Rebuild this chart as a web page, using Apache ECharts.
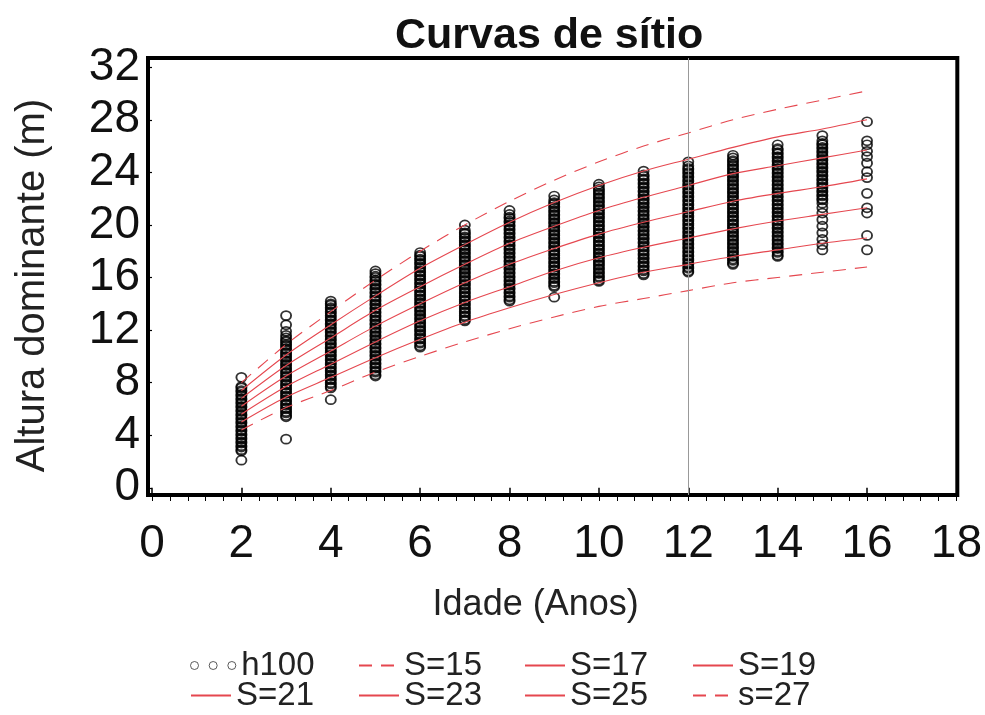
<!DOCTYPE html>
<html><head><meta charset="utf-8">
<script src="https://cdn.jsdelivr.net/npm/echarts@6/dist/echarts.min.js"></script>
<style>html,body{margin:0;padding:0;background:#fff}#c{width:985px;height:715px}</style>
</head><body><div id="c"></div>
<script>
// Idades (anos) das curvas
const idades = [2,3,4,5,6,7,8,9,10,11,12,13,14,15,16];
// Curvas de sítio (altura dominante em m, índice na idade 12)
const S15 = [4.4,6.1,7.4,8.8,10.0,11.1,12.1,13.0,13.8,14.4,15.0,15.6,16.0,16.4,16.8];
const S17 = [5.0,6.9,8.4,9.9,11.3,12.6,13.7,14.7,15.6,16.4,17.0,17.6,18.1,18.6,19.0];
const S19 = [5.6,7.7,9.4,11.1,12.7,14.1,15.3,16.5,17.5,18.3,19.0,19.7,20.3,20.8,21.3];
const S21 = [6.2,8.5,10.4,12.3,14.0,15.6,17.0,18.2,19.3,20.2,21.0,21.8,22.4,22.9,23.5];
const S23 = [6.8,9.3,11.4,13.5,15.3,17.0,18.6,19.9,21.1,22.1,23.0,23.9,24.5,25.1,25.7];
const S25 = [7.4,10.1,12.4,14.6,16.7,18.5,20.2,21.7,23.0,24.1,25.0,25.9,26.7,27.3,28.0];
const S27 = [8.0,10.9,13.4,15.8,18.0,20.0,21.8,23.4,24.8,26.0,27.0,28.0,28.8,29.5,30.2];
// Observações h100 por idade
const h2 = [2.1,2.8,2.9,3.1,3.2,3.4,3.5,3.7,3.8,4.0,4.1,4.3,4.4,4.6,4.7,4.9,5.0,5.2,5.3,5.5,5.6,5.8,5.9,6.1,6.2,6.4,6.5,6.7,6.8,7.0,7.1,7.3,7.4,7.6,7.7,8.4];
const h3 = [3.7,5.4,5.5,5.7,5.8,6.0,6.1,6.3,6.4,6.6,6.7,6.9,7.0,7.2,7.3,7.5,7.6,7.8,7.9,8.1,8.2,8.4,8.5,8.7,8.8,9.0,9.1,9.3,9.4,9.6,9.7,9.9,10.0,10.2,10.3,10.5,10.6,10.8,10.9,11.1,11.2,11.4,11.6,11.9,12.4,13.1];
const h4 = [6.7,7.6,7.7,7.9,8.0,8.2,8.3,8.5,8.6,8.8,8.9,9.1,9.2,9.4,9.5,9.7,9.8,10.0,10.1,10.3,10.4,10.6,10.7,10.9,11.0,11.2,11.3,11.5,11.6,11.8,11.9,12.1,12.2,12.4,12.5,12.7,12.8,13.0,13.1,13.3,13.4,13.6,13.7,13.9,14.0,14.2];
const h5 = [8.5,8.6,8.8,8.9,9.1,9.2,9.4,9.5,9.7,9.8,10.0,10.1,10.3,10.4,10.6,10.7,10.9,11.0,11.2,11.3,11.5,11.6,11.8,11.9,12.1,12.2,12.4,12.5,12.7,12.8,13.0,13.1,13.3,13.4,13.6,13.7,13.9,14.0,14.2,14.3,14.5,14.6,14.8,14.9,15.1,15.2,15.4,15.5,15.7,15.8,16.0,16.1,16.3,16.5];
const h6 = [10.7,10.8,11.0,11.1,11.3,11.4,11.6,11.7,11.9,12.0,12.2,12.3,12.5,12.6,12.8,12.9,13.1,13.2,13.4,13.5,13.7,13.8,14.0,14.1,14.3,14.4,14.6,14.7,14.9,15.0,15.2,15.3,15.5,15.6,15.8,15.9,16.1,16.2,16.4,16.5,16.7,16.8,17.0,17.1,17.3,17.4,17.6,17.7,17.9];
const h7 = [12.7,12.8,13.0,13.1,13.3,13.4,13.6,13.7,13.9,14.0,14.2,14.3,14.5,14.6,14.8,14.9,15.1,15.2,15.4,15.5,15.7,15.8,16.0,16.1,16.3,16.4,16.6,16.7,16.9,17.0,17.2,17.3,17.5,17.6,17.8,17.9,18.1,18.2,18.4,18.5,18.7,18.8,19.0,19.1,19.3,19.4,19.6,20.0];
const h8 = [14.2,14.3,14.5,14.6,14.8,14.9,15.1,15.2,15.4,15.5,15.7,15.8,16.0,16.1,16.3,16.4,16.6,16.7,16.9,17.0,17.2,17.3,17.5,17.6,17.8,17.9,18.1,18.2,18.4,18.5,18.7,18.8,19.0,19.1,19.3,19.4,19.6,19.7,19.9,20.0,20.2,20.3,20.5,20.6,20.8,21.1];
const h9 = [14.5,15.3,15.4,15.6,15.7,15.9,16.0,16.2,16.3,16.5,16.6,16.8,16.9,17.1,17.2,17.4,17.5,17.7,17.8,18.0,18.1,18.3,18.4,18.6,18.7,18.9,19.0,19.2,19.3,19.5,19.6,19.8,19.9,20.1,20.2,20.4,20.5,20.7,20.8,21.0,21.1,21.3,21.4,21.6,21.7,21.9,22.2];
const h10 = [15.7,15.8,16.0,16.1,16.3,16.4,16.6,16.7,16.9,17.0,17.2,17.3,17.5,17.6,17.8,17.9,18.1,18.2,18.4,18.5,18.7,18.8,19.0,19.1,19.3,19.4,19.6,19.7,19.9,20.0,20.2,20.3,20.5,20.6,20.8,20.9,21.1,21.2,21.4,21.5,21.7,21.8,22.0,22.1,22.3,22.4,22.6,22.7,22.9,23.1];
const h11 = [16.2,16.3,16.5,16.6,16.8,16.9,17.1,17.2,17.4,17.5,17.7,17.8,18.0,18.1,18.3,18.4,18.6,18.7,18.9,19.0,19.2,19.3,19.5,19.6,19.8,19.9,20.1,20.2,20.4,20.5,20.7,20.8,21.0,21.1,21.3,21.4,21.6,21.7,21.9,22.0,22.2,22.3,22.5,22.6,22.8,22.9,23.1,23.2,23.4,23.5,23.7,23.8,24.1];
const h12 = [16.4,16.5,16.7,16.8,17.0,17.1,17.3,17.4,17.6,17.7,17.9,18.0,18.2,18.3,18.5,18.6,18.8,18.9,19.1,19.2,19.4,19.5,19.7,19.8,20.0,20.1,20.3,20.4,20.6,20.7,20.9,21.0,21.2,21.3,21.5,21.6,21.8,21.9,22.1,22.2,22.4,22.5,22.7,22.8,23.0,23.1,23.3,23.4,23.6,23.7,23.9,24.0,24.2,24.3,24.5,24.8];
const h13 = [17.0,17.1,17.3,17.4,17.6,17.7,17.9,18.0,18.2,18.3,18.5,18.6,18.8,18.9,19.1,19.2,19.4,19.5,19.7,19.8,20.0,20.1,20.3,20.4,20.6,20.7,20.9,21.0,21.2,21.3,21.5,21.6,21.8,21.9,22.1,22.2,22.4,22.5,22.7,22.8,23.0,23.1,23.3,23.4,23.6,23.7,23.9,24.0,24.2,24.3,24.5,24.6,24.8,24.9,25.1,25.3];
const h14 = [17.6,17.7,17.9,18.0,18.2,18.3,18.5,18.6,18.8,18.9,19.1,19.2,19.4,19.5,19.7,19.8,20.0,20.1,20.3,20.4,20.6,20.7,20.9,21.0,21.2,21.3,21.5,21.6,21.8,21.9,22.1,22.2,22.4,22.5,22.7,22.8,23.0,23.1,23.3,23.4,23.6,23.7,23.9,24.0,24.2,24.3,24.5,24.6,24.8,24.9,25.1,25.2,25.4,25.5,25.7,25.8,26.1];
const h15 = [18.1,18.5,18.9,19.4,19.9,20.4,20.9,21.3,21.65,21.9,22.0,22.2,22.3,22.5,22.6,22.8,22.9,23.1,23.2,23.4,23.5,23.7,23.8,24.0,24.1,24.3,24.4,24.6,24.7,24.9,25.0,25.2,25.3,25.5,25.6,25.8,25.9,26.1,26.2,26.4,26.8];
const h16 = [18.1,19.2,20.9,21.3,22.4,23.6,24.05,24.7,25.2,25.6,26.1,26.4,27.85];
// Rótulos dos eixos
const xTicks = [0,2,4,6,8,10,12,14,16,18];
const yTicks = [0,4,8,12,16,20,24,28,32];
const idadeRef = 12;

const FONT = '"Liberation Sans", Arial, sans-serif';
const obsCols = [[2,h2],[3,h3],[4,h4],[5,h5],[6,h6],[7,h7],[8,h8],[9,h9],[10,h10],[11,h11],[12,h12],[13,h13],[14,h14],[15,h15],[16,h16]];
const obs = [];
obsCols.forEach(([a, arr]) => arr.forEach(v => obs.push([a, v])));
const minorTicks = [];
for (let i = 0; i <= 45; i++) minorTicks.push(+(i * 0.4).toFixed(2));

const RED = '#e5474f';
function curve(name, vals, dashed) {
  return {
    name: name, type: 'line', data: idades.map((a, i) => [a, vals[i]]),
    symbol: 'none', smooth: 0.3,
    lineStyle: {color: RED, width: 1.1, type: dashed ? [13, 9] : 'solid'},
    itemStyle: {color: RED},
    z: 3, silent: true
  };
}

const chart = echarts.init(document.getElementById('c'), null, {renderer: 'canvas'});
const legendPos = [
  ['h100', 185, 644], ['S=15', 353, 644], ['S=17', 519, 644], ['S=19', 687, 644],
  ['S=21', 185, 674], ['S=23', 353, 674], ['S=25', 519, 674], ['s=27', 687, 674]
];
const threeCircles = 'path://M0,3a3,3 0 1,0 6,0a3,3 0 1,0 -6,0M14,3a3,3 0 1,0 6,0a3,3 0 1,0 -6,0M28,3a3,3 0 1,0 6,0a3,3 0 1,0 -6,0';
chart.setOption({
  animation: false,
  backgroundColor: '#fff',
  title: {text: 'Curvas de sítio', left: 390, top: 10,
    textStyle: {fontFamily: FONT, fontSize: 43, fontWeight: 'bold', color: '#111'}},
  legend: legendPos.map(([n, x, y]) => (n === 'h100' ? {
    data: [{name: n, icon: threeCircles}],
    left: x, top: y, itemWidth: 46, itemHeight: 8, itemGap: 6, selectedMode: false,
    itemStyle: {borderWidth: 1, borderColor: '#333'},
    textStyle: {fontFamily: FONT, fontSize: 33, color: '#222'}
  } : {
    data: [n],
    left: x, top: y, itemWidth: 40, itemHeight: 12, itemGap: 5, selectedMode: false,
    itemStyle: {opacity: 0},
    textStyle: {fontFamily: FONT, fontSize: 33, color: '#222'}
  })),
  grid: {left: 148, right: 22, top: 58, bottom: 220, show: true, borderColor: '#000', borderWidth: 4,
    backgroundColor: '#fff', containLabel: false},
  xAxis: [{
    type: 'value', min: -0.09, max: 18.02, position: 'bottom',
    axisLine: {show: false}, splitLine: {show: false},
    axisTick: {customValues: xTicks, length: 9, lineStyle: {color: '#000', width: 1.5}},
    axisLabel: {customValues: xTicks, fontFamily: FONT, fontSize: 46, color: '#111', margin: 26},
    name: 'Idade (Anos)', nameLocation: 'middle', nameGap: 92,
    nameTextStyle: {fontFamily: FONT, fontSize: 36, color: '#222', padding: [0, 34, 0, 0]}
  }, {
    type: 'value', min: -0.09, max: 18.02, position: 'top', offset: -437,
    axisLine: {show: false}, splitLine: {show: false},
    axisTick: {customValues: minorTicks, inside: true, length: 6, lineStyle: {color: '#000', width: 1}},
    axisLabel: {show: false}
  }],
  yAxis: {
    type: 'value', min: -0.55, max: 32.7,
    axisLine: {show: false}, splitLine: {show: false},
    axisTick: {customValues: yTicks, length: 4, lineStyle: {color: '#000', width: 1.2}},
    axisLabel: {customValues: yTicks, fontFamily: FONT, fontSize: 46, color: '#111', margin: 8},
    name: 'Altura dominante (m)', nameLocation: 'middle', nameGap: 95,
    nameTextStyle: {fontFamily: FONT, fontSize: 40, color: '#222', padding: [0, 18, 0, 0]}
  },
  series: [
    {name: 'h100', type: 'scatter', data: obs, symbol: 'circle', symbolSize: [10, 9],
      itemStyle: {color: 'rgba(0,0,0,0)', borderColor: '#000', borderWidth: 1.8}, z: 2, silent: true,
      markLine: {silent: true, symbol: 'none', label: {show: false},
        lineStyle: {color: '#999', width: 1, type: 'solid'}, data: [{xAxis: idadeRef}]}},
    curve('S=15', S15, true),
    curve('S=17', S17, false),
    curve('S=19', S19, false),
    curve('S=21', S21, false),
    curve('S=23', S23, false),
    curve('S=25', S25, false),
    curve('s=27', S27, true)
  ]
});
</script></body></html>
